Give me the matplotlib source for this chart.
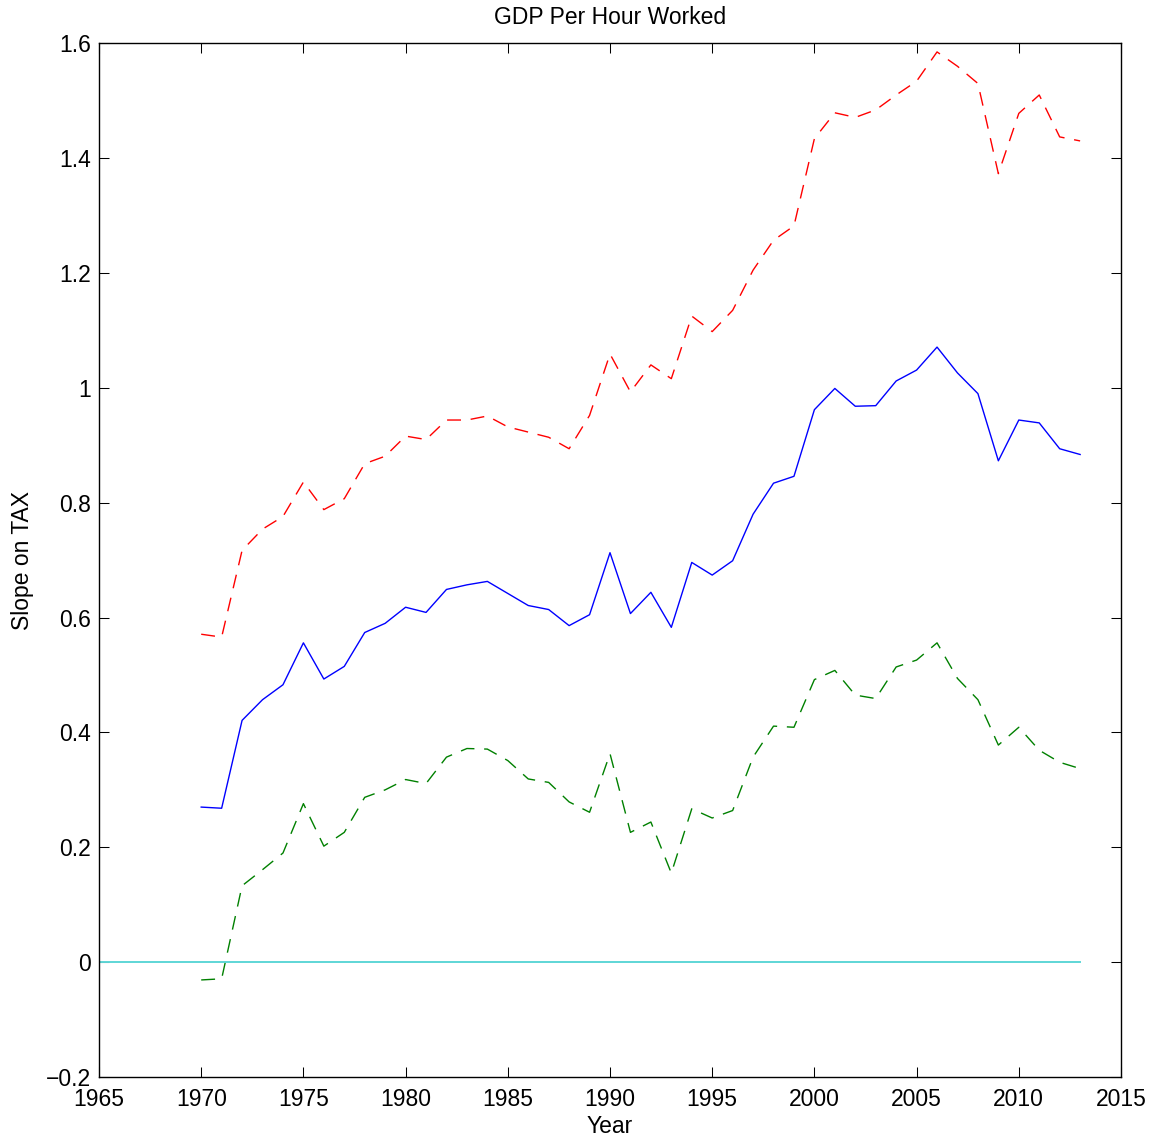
import matplotlib
matplotlib.use('Agg')
import matplotlib.pyplot as plt
import matplotlib.ticker as ticker
import numpy as np

plt.rcParams['font.family'] = ['Liberation Sans', 'DejaVu Sans']

years = list(range(1970, 2014))

slope = [0.270, 0.268, 0.421, 0.457, 0.483, 0.556, 0.493, 0.515, 0.574, 0.590,
         0.618, 0.609, 0.649, 0.657, 0.663, 0.642, 0.621, 0.614, 0.586, 0.605,
         0.713, 0.607, 0.644, 0.583, 0.696, 0.674, 0.699, 0.780, 0.834, 0.846,
         0.962, 0.999, 0.968, 0.969, 1.012, 1.031, 1.071, 1.026, 0.990, 0.873,
         0.944, 0.939, 0.894, 0.884]

upper = [0.571, 0.566, 0.717, 0.754, 0.776, 0.836, 0.788, 0.807, 0.868, 0.881,
         0.916, 0.910, 0.944, 0.944, 0.951, 0.932, 0.923, 0.914, 0.894, 0.952,
         1.059, 0.993, 1.040, 1.016, 1.125, 1.098, 1.135, 1.205, 1.257, 1.282,
         1.434, 1.479, 1.471, 1.484, 1.510, 1.534, 1.585, 1.560, 1.530, 1.373,
         1.478, 1.510, 1.437, 1.430]

lower = [-0.031, -0.029, 0.133, 0.161, 0.190, 0.276, 0.202, 0.226, 0.287, 0.300,
         0.318, 0.311, 0.357, 0.372, 0.371, 0.351, 0.319, 0.313, 0.279, 0.261,
         0.363, 0.226, 0.244, 0.155, 0.267, 0.251, 0.264, 0.357, 0.411, 0.409,
         0.492, 0.508, 0.465, 0.459, 0.514, 0.526, 0.556, 0.494, 0.457, 0.378,
         0.409, 0.369, 0.348, 0.337]

zero_x = [1965, 2013]
zero_y = [0, 0]

fig = plt.figure(figsize=(11.56, 11.41), dpi=100)
ax = fig.add_axes([99 / 1156, 1 - 1077 / 1141, 1022 / 1156, (1077 - 43.3) / 1141])

dash = (0, (10, 7))
ax.plot(years, slope, color='#0000ff', linewidth=1.0)
ax.plot(years, upper, color='#ff0000', linewidth=1.0, linestyle=dash)
ax.plot(years, lower, color='#008000', linewidth=1.0, linestyle=dash)
ax.plot(zero_x, zero_y, color='#5ed6d6', linewidth=1.4)

ax.set_xlim(1965, 2015)
ax.set_ylim(-0.2, 1.6)
ax.set_xticks(np.arange(1965, 2016, 5))
ax.set_yticks(np.arange(-0.2, 1.61, 0.2))
ax.yaxis.set_major_formatter(ticker.FuncFormatter(
    lambda v, p: ('%g' % round(v, 1)).replace('-', '\u2212')))

ax.tick_params(direction='in', length=7, width=0.75, top=True, right=True,
               labelsize=16.5)
ax.tick_params(axis='x', pad=8)
ax.tick_params(axis='y', pad=6)
for s in ax.spines.values():
    s.set_linewidth(1.0)

ax.set_title('GDP Per Hour Worked', fontsize=16.5, pad=14)
ax.set_xlabel('Year', fontsize=16.5, labelpad=3)
ax.set_ylabel('Slope on TAX', fontsize=16.5, labelpad=8)

plt.savefig('out.png', dpi=100)
